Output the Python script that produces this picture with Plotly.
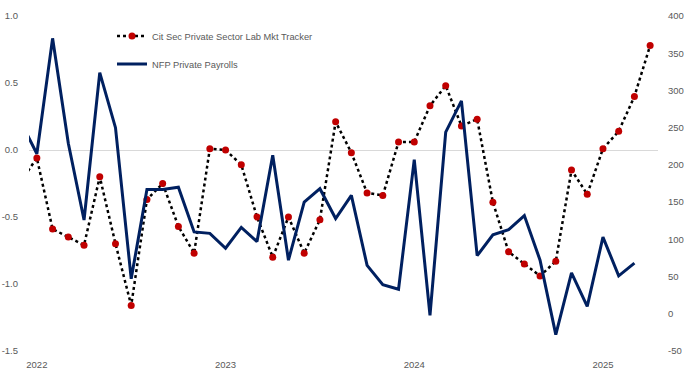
import plotly.graph_objects as go

# Monthly categories (Dec 2021 sits just outside the visible range, as in the reference)
months = ["2021-12",
          "2022-01", "2022-02", "2022-03", "2022-04", "2022-05", "2022-06",
          "2022-07", "2022-08", "2022-09", "2022-10", "2022-11", "2022-12",
          "2023-01", "2023-02", "2023-03", "2023-04", "2023-05", "2023-06",
          "2023-07", "2023-08", "2023-09", "2023-10", "2023-11", "2023-12",
          "2024-01", "2024-02", "2024-03", "2024-04", "2024-05", "2024-06",
          "2024-07", "2024-08", "2024-09", "2024-10", "2024-11", "2024-12",
          "2025-01", "2025-02", "2025-03", "2025-04"]

# Cit Sec Private Sector Lab Mkt Tracker (left axis)
tracker = [-0.23,
           -0.06, -0.59, -0.65, -0.71, -0.20, -0.70,
           -1.16, -0.37, -0.25, -0.57, -0.77, 0.01,
           0.00, -0.11, -0.50, -0.80, -0.50, -0.77,
           -0.52, 0.21, -0.02, -0.32, -0.34, 0.06,
           0.06, 0.33, 0.48, 0.18, 0.23, -0.39,
           -0.76, -0.85, -0.94, -0.83, -0.15, -0.33,
           0.01, 0.14, 0.40, 0.78]

# NFP Private Payrolls, thousands (right axis)
payrolls = [257,
            215, 370, 229, 126, 324, 250,
            47, 167, 167, 170, 110, 108,
            88, 116, 97, 213, 72, 150,
            168, 128, 159, 65, 39, 33,
            207, -2, 244, 286, 78, 106,
            113, 132, 72, -28, 55, 10,
            103, 51, 68, None]

x_tickvals = ["2022-01", "2023-01", "2024-01", "2025-01"]
x_ticktext = ["2022", "2023", "2024", "2025"]
left_tickvals = [-1.5, -1.0, -0.5, 0.0, 0.5, 1.0]
left_ticktext = ["-1.5", "-1.0", "-0.5", "0.0", "0.5", "1.0"]
right_tickvals = [-50, 0, 50, 100, 150, 200, 250, 300, 350, 400]
right_ticktext = ["-50", "0", "50", "100", "150", "200", "250", "300", "350", "400"]

FONT = "Liberation Sans"
GREY = "#595959"

W, H = 688, 382
L, R, T, B = 29, W - 658, 16, H - 351
PW = W - L - R
PH = H - T - B


def px_to_paper_x(px):
    return (px - L) / PW


def px_to_paper_y(py):
    return (H - B - py) / PH


fig = go.Figure()
fig.add_trace(go.Scatter(
    x=months, y=tracker, name="Cit Sec Private Sector Lab Mkt Tracker",
    mode="lines+markers",
    line=dict(color="#000000", width=2.5, dash="dot"),
    marker=dict(color="#c00000", size=7),
    yaxis="y", legend="legend", showlegend=True,
))
fig.add_trace(go.Scatter(
    x=months, y=payrolls, name="NFP Private Payrolls",
    mode="lines",
    line=dict(color="#002060", width=3),
    yaxis="y2", legend="legend2", showlegend=True,
))

fig.update_layout(
    width=W, height=H,
    margin=dict(l=L, r=R, t=T, b=B, pad=0),
    showlegend=True,
    paper_bgcolor="white", plot_bgcolor="white",
    font=dict(family=FONT, size=9.5, color=GREY),
    xaxis=dict(
        type="category", range=[0.5, 40.5],
        tickvals=x_tickvals, ticktext=x_ticktext,
        showgrid=False, showline=False, zeroline=False, ticks="",
        ticklabelstandoff=6, automargin=False,
    ),
    yaxis=dict(
        range=[-1.5, 1.0], tickvals=left_tickvals, ticktext=left_ticktext,
        showgrid=False, showline=False, ticks="",
        zeroline=True, zerolinecolor="#d9d9d9", zerolinewidth=1,
        ticklabelstandoff=10, automargin=False,
    ),
    yaxis2=dict(
        range=[-50, 400], tickvals=right_tickvals, ticktext=right_ticktext,
        overlaying="y", side="right",
        showgrid=False, showline=False, zeroline=False, ticks="",
        ticklabelstandoff=9, automargin=False,
    ),
    legend=dict(
        x=px_to_paper_x(112), y=px_to_paper_y(36), xanchor="left", yanchor="middle",
        bgcolor="rgba(0,0,0,0)", font=dict(size=9.3, color=GREY, family=FONT),
        itemwidth=30, visible=True,
    ),
    legend2=dict(
        x=px_to_paper_x(112), y=px_to_paper_y(64), xanchor="left", yanchor="middle",
        bgcolor="rgba(0,0,0,0)", font=dict(size=9.3, color=GREY, family=FONT),
        itemwidth=30, visible=True,
    ),
)

# Remove the default 8px page margin so the figure fills the window exactly
fig.write_html("out.html",
               config={"displayModeBar": False},
               post_script="document.body.style.margin='0';"
                           "document.body.style.overflow='hidden';")
